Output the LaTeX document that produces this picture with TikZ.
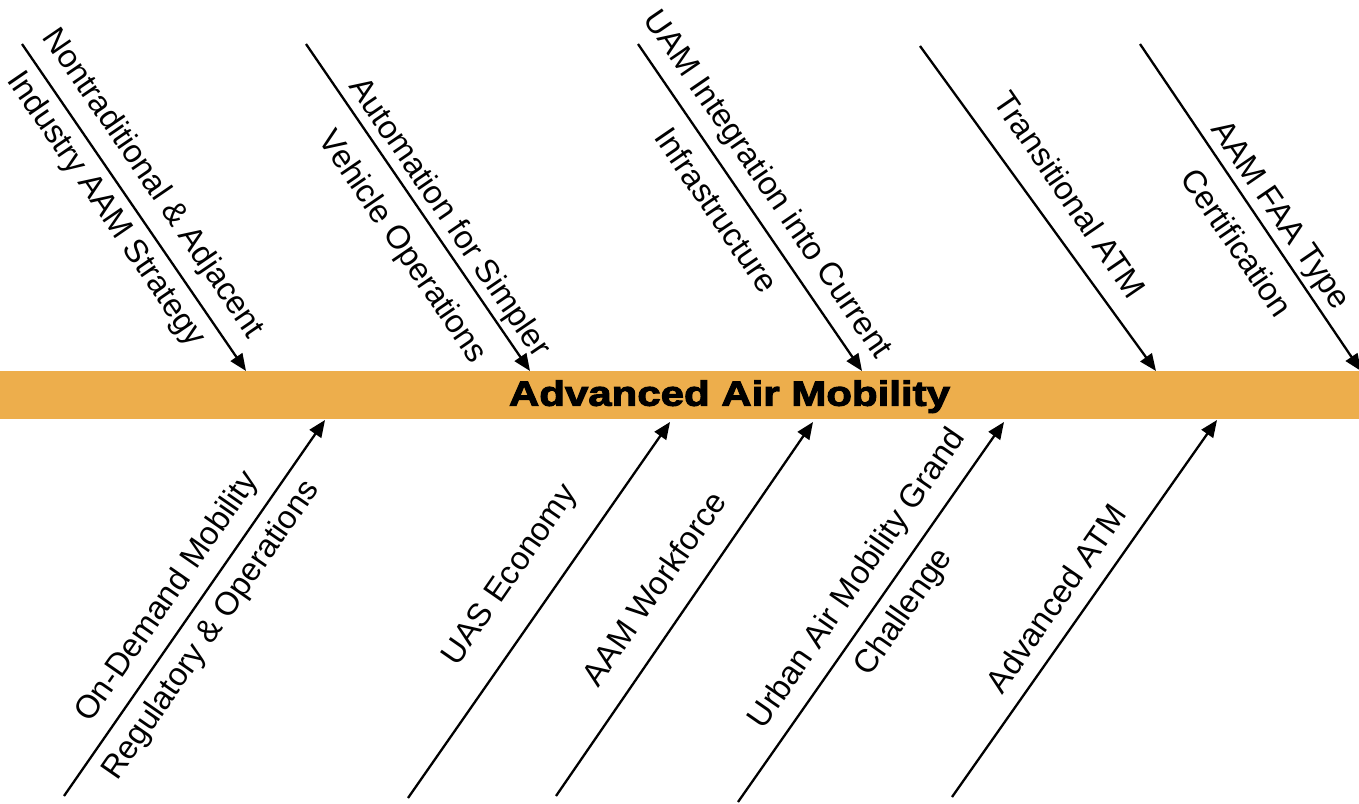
\documentclass[tikz,border=0pt]{standalone}
\usepackage{fontspec}
\setmainfont{Liberation Sans}
\newfontfamily\titlefont{Liberation Sans}[BoldFeatures={FakeStretch=1.2,FakeBold=3}]
\usetikzlibrary{arrows.meta}
\definecolor{spinecol}{RGB}{237,174,76}
\begin{document}
\begin{tikzpicture}[x=1pt,y=-1pt,
  arr/.style={line width=2.3pt,-{Triangle[length=17pt,width=14pt]}},
  lbl/.style={font=\fontsize{32.5}{39}\selectfont,anchor=base,inner sep=0pt},
  toplbl/.style={lbl,rotate=-55.6},
  botlbl/.style={lbl,rotate=55.3},
  spine/.style={fill=spinecol,draw=none,minimum width=1359pt,minimum height=48pt,inner sep=0pt}]
\useasboundingbox (0,0) rectangle (1359,803);
\node[spine] (bar) at (679.5,395) {};
\node[anchor=base,inner sep=0pt,font=\titlefont\bfseries\fontsize{35}{40}\selectfont] (title) at (729.5,405.7) {Advanced Air Mobility};
% top arrows
\coordinate (t1s) at (22,44);   \coordinate (t1e) at (246,371);
\coordinate (t2s) at (306,44);  \coordinate (t2e) at (530,371);
\coordinate (t3s) at (638,44);  \coordinate (t3e) at (862,371);
\coordinate (t4s) at (920,46);  \coordinate (t4e) at (1156,371);
\coordinate (t5s) at (1140,44); \coordinate (t5e) at (1361,371);
\foreach \i in {1,...,5} {\draw[arr] (t\i s) -- (t\i e);}
% bottom arrows
\coordinate (b1s) at (64,796);  \coordinate (b1e) at (325,420);
\coordinate (b2s) at (408,798); \coordinate (b2e) at (670,422);
\coordinate (b3s) at (556,796); \coordinate (b3e) at (813,422);
\coordinate (b4s) at (738,802); \coordinate (b4e) at (1004,422);
\coordinate (b5s) at (952,797); \coordinate (b5e) at (1217,420);
\foreach \i in {1,...,5} {\draw[arr] (b\i s) -- (b\i e);}
% top labels
\node[toplbl] (l1a) at (145.5,188.5) {Nontraditional \& Adjacent};
\node[toplbl] (l1b) at (98.5,214.3) {Industry AAM Strategy};
\node[toplbl] (l2a) at (441.8,223.2) {Automation for Simpler};
\node[toplbl] (l2b) at (395,252.3) {Vehicle Operations};
\node[toplbl] (l3a) at (759.7,189.8) {UAM Integration into Current};
\node[toplbl] (l3b) at (707.5,216.5) {Infrastructure};
\node[toplbl] (l4) at (1060.5,201.5) {Transitional ATM};
\node[toplbl] (l5a) at (1272.6,220.7) {AAM FAA Type};
\node[toplbl] (l5b) at (1227.6,249) {Certification};
% bottom labels
\node[botlbl] (m1a) at (174.9,602.1) {On-Demand Mobility};
\node[botlbl] (m1b) at (218.5,635.7) {Regulatory \& Operations};
\node[botlbl] (m2) at (517.4,580.4) {UAS Economy};
\node[botlbl] (m3) at (663.2,594.9) {AAM Workforce};
\node[botlbl] (m4a) at (865,584) {Urban Air Mobility Grand};
\node[botlbl] (m4b) at (911.5,617.4) {Challenge};
\node[botlbl] (m5) at (1065.2,604.9) {Advanced ATM};
\end{tikzpicture}
\end{document}
